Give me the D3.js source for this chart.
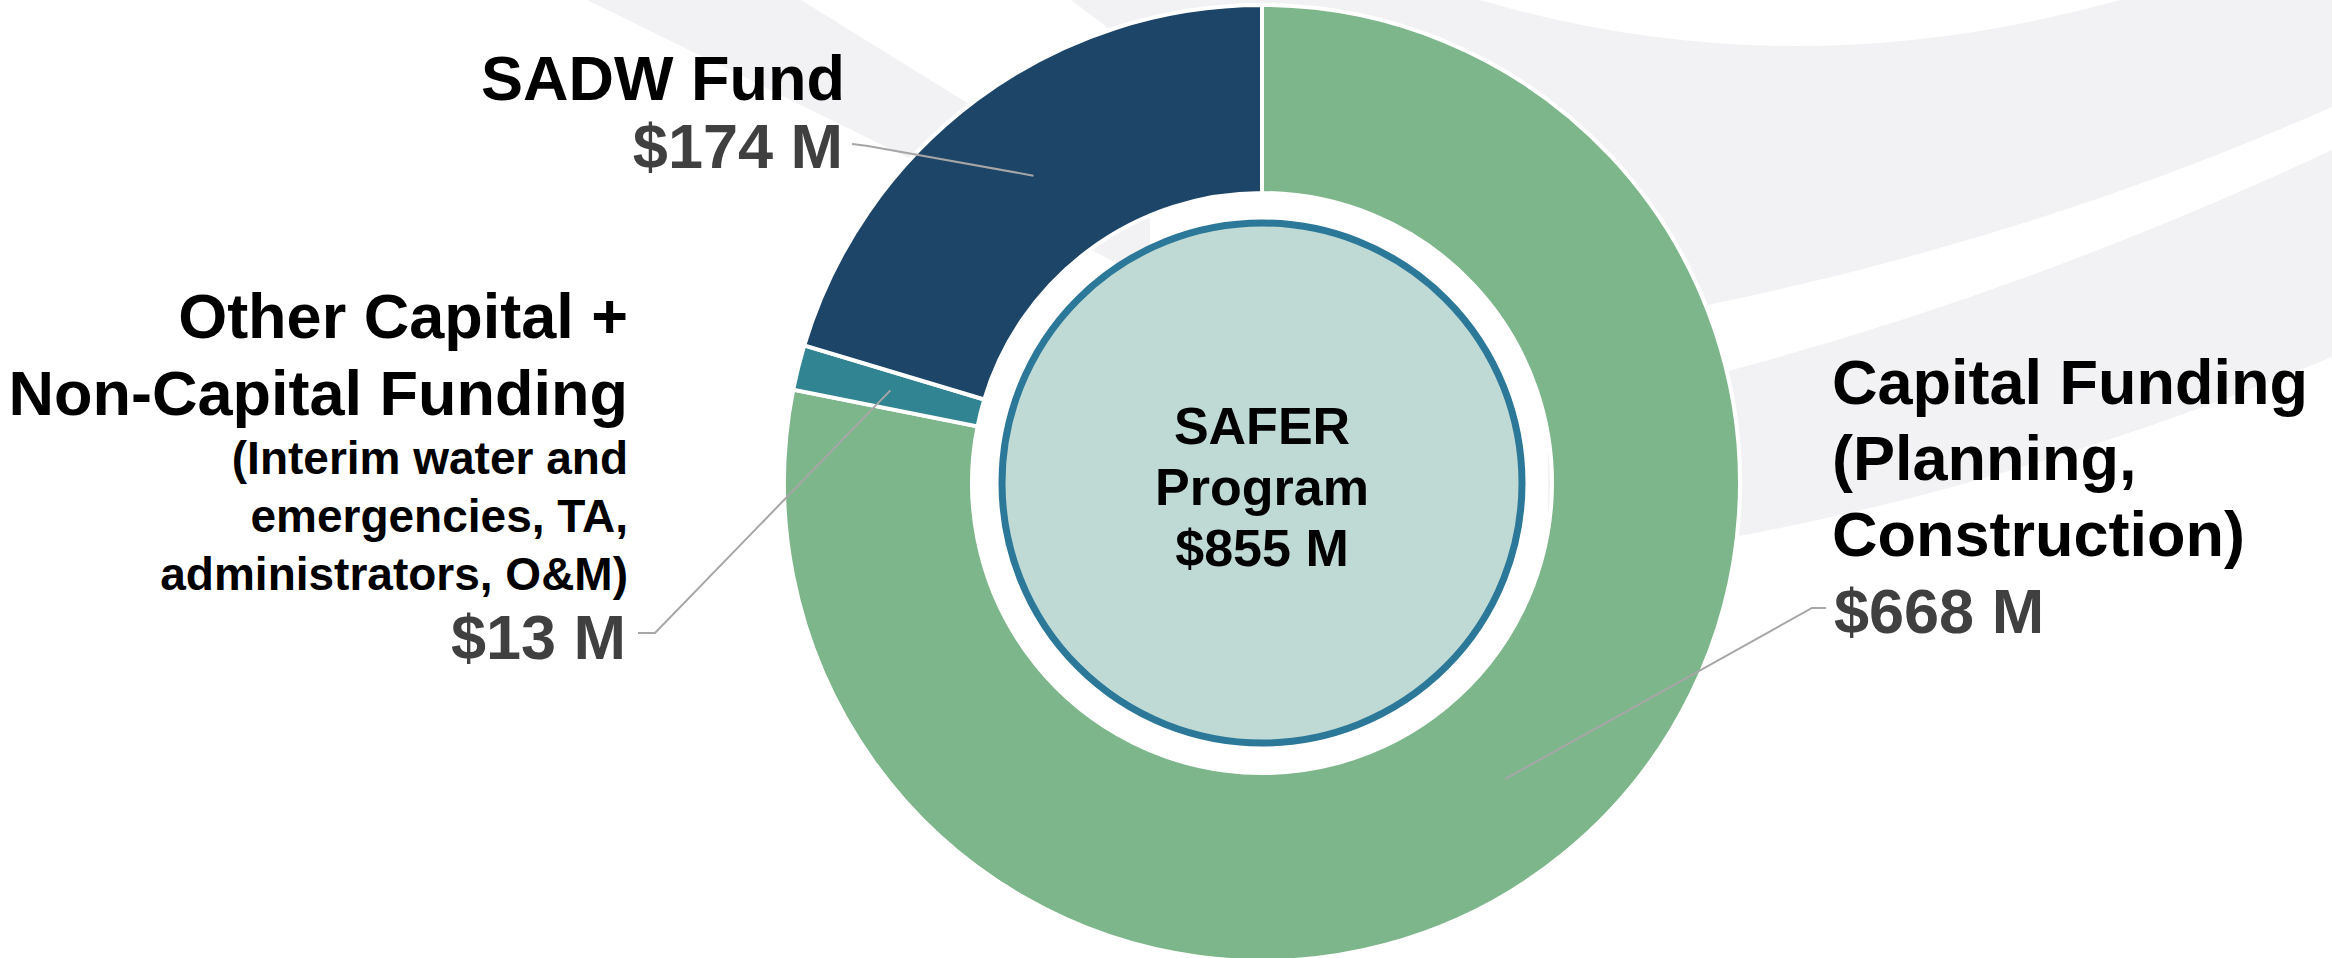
<!DOCTYPE html>
<html>
<head>
<meta charset="utf-8">
<script src="https://cdn.jsdelivr.net/npm/d3@7"></script>
<style>
  body { margin: 0; background: #fff; }
  text { font-family: "Liberation Sans", Arial, sans-serif; font-weight: 700; }
</style>
</head>
<body>
<div id="chart-container"></div>
<script>
// data
const categories = ["Capital Funding", "Other Capital + Non-Capital Funding", "SADW Fund"];
const values = [668, 13, 174];
const valueLabels = ["$668 M", "$13 M", "$174 M"];
const titleLines = [
  ["Capital Funding", "(Planning,", "Construction)"],
  ["Other Capital +", "Non-Capital Funding"],
  ["SADW Fund"]
];
const noteLines = [[], ["(Interim water and", "emergencies, TA,", "administrators, O&M)"], []];
const centerLines = ["SAFER", "Program", "$855 M"];
const colors = ["#7db68a", "#318592", "#1c4567"];

const width = 2332, height = 958;
const cx = 1262, cy = 483;
const outerR = 478, innerR = 290;

const svg = d3.select("#chart-container")
  .append("svg")
  .attr("width", width)
  .attr("height", height);

// light grey background swooshes
const bg = svg.append("g").attr("fill", "#f2f2f4");
bg.append("path").attr("d", "M587,0 L801,0 L969,104 L1150,216 L1150,280 L968,187 Z");
bg.append("path").attr("d", "M1071,0 L2332,0 L2332,357 Q2027,482 1739,536 L1700,560 L1548,517 L1548,300 L1112,31 Z");
const wh = svg.append("g").attr("fill", "#fff");
wh.append("path").attr("d", "M1480,0 Q1790,92 2120,0 Z");
wh.append("path").attr("d", "M2332,107 Q2040,236 1712,304 L1650,330 L1660,390 L1728,371 Q2032,290 2332,150 Z");

const g = svg.append("g").attr("transform", `translate(${cx},${cy})`);

const pie = d3.pie().sort(null).value(d => d);
const arcs = pie(values);

const arc = d3.arc().innerRadius(innerR).outerRadius(outerR);
const midArc = d3.arc().innerRadius(383).outerRadius(383);

g.selectAll("path.slice")
  .data(arcs)
  .join("path")
  .attr("class", "slice")
  .attr("d", arc)
  .attr("fill", (d, i) => colors[i])
  .attr("stroke", "#fff")
  .attr("stroke-width", 4);

// center circle
g.append("circle")
  .attr("r", 260)
  .attr("fill", "#bfd9d5")
  .attr("stroke", "#2b7898")
  .attr("stroke-width", 7);

g.append("text")
  .attr("text-anchor", "middle")
  .attr("font-size", 52)
  .attr("fill", "#000")
  .selectAll("tspan")
  .data(centerLines)
  .join("tspan")
  .attr("x", 0)
  .attr("y", (d, i) => -39 + i * 61)
  .text(d => d);

// label layout (page coordinates)
const layout = [
  { x: 1832, anchor: "start", titleY: 404, lh: 76, valueY: 633, elbow: [1812, 608], end: [1826, 608] },
  { x: 628, anchor: "end", titleY: 338, lh: 77, noteY: 474, noteLh: 58, valueY: 659, elbow: [655, 633], end: [638, 633] },
  { x: 845, anchor: "end", titleY: 100, lh: 76, valueY: 168, elbow: [868, 146], end: [852, 144] }
];

// leader lines
svg.append("g")
  .selectAll("polyline")
  .data(arcs)
  .join("polyline")
  .attr("fill", "none")
  .attr("stroke", "#a6a6a6")
  .attr("stroke-width", 2)
  .attr("points", (d, i) => {
    const c = midArc.centroid(d);
    const L = layout[i];
    return [[cx + c[0], cy + c[1]], L.elbow, L.end].map(p => p.join(",")).join(" ");
  });

const labels = svg.append("g");
arcs.forEach((d, i) => {
  const L = layout[i];
  const t = labels.append("text")
    .attr("text-anchor", L.anchor)
    .attr("font-size", 63)
    .attr("fill", "#000");
  t.selectAll("tspan")
    .data(titleLines[i])
    .join("tspan")
    .attr("x", L.x)
    .attr("y", (s, j) => L.titleY + j * L.lh)
    .text(s => s);

  if (noteLines[i].length) {
    labels.append("text")
      .attr("text-anchor", L.anchor)
      .attr("font-size", 46)
      .attr("fill", "#000")
      .selectAll("tspan")
      .data(noteLines[i])
      .join("tspan")
      .attr("x", L.x)
      .attr("y", (s, j) => L.noteY + j * L.noteLh)
      .text(s => s);
  }

  labels.append("text")
    .attr("text-anchor", L.anchor)
    .attr("font-size", 63)
    .attr("fill", "#404040")
    .attr("x", L.anchor === "end" ? L.x - 2 : L.x + 2)
    .attr("y", L.valueY)
    .text(valueLabels[i]);
});
</script>
</body>
</html>
